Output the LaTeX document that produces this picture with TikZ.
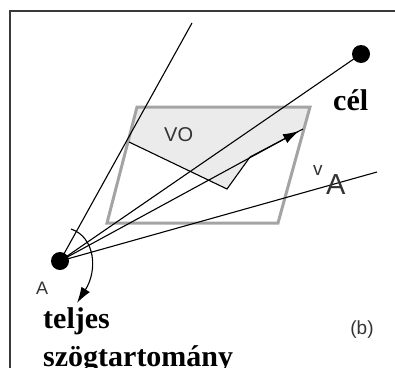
\documentclass[tikz,border=0pt]{standalone}
\usepackage{fontspec}
\setmainfont{Liberation Serif}
\setsansfont{Liberation Sans}
\usetikzlibrary{arrows.meta}
\definecolor{pgray}{HTML}{A4A4A4}
\definecolor{vofill}{HTML}{EBEBEB}
\definecolor{framegray}{HTML}{3A3A3A}
\definecolor{txtgray}{HTML}{333333}
\tikzset{
  thinline/.style={line width=1.1pt, black},
  dotnode/.style={circle, fill=black, inner sep=0pt, minimum size=18pt},
  sanslabel/.style={inner sep=0pt, text=txtgray, font=\sffamily\fontsize{19}{22}\selectfont},
  boldlabel/.style={inner sep=0pt, text=black, font=\bfseries\fontsize{30}{34}\selectfont},
  arrowtip/.style={-{Latex[length=16pt,width=10pt]}}
}
\begin{document}
\begin{tikzpicture}[x=1pt,y=-1pt]
\useasboundingbox (0,0) rectangle (395,367);
% frame
\draw[framegray, line width=2pt] (10,400) -- (10,11) -- (400,11);
% VO shaded region
\fill[vofill] (137,107) -- (310,107) -- (304,129) -- (250,157) -- (227,189) -- (128,142) -- cycle;
% parallelogram
\draw[pgray, line width=3pt, line join=miter] (137,107) -- (310,107) -- (278,223) -- (107,223) -- cycle;
% VO boundary
\coordinate (vo1) at (129,142);
\coordinate (apex) at (227,189);
\coordinate (vo2) at (250,157);
\coordinate (vo3) at (303,129);
\draw[thinline] (vo1) -- (apex) -- (vo2) -- (vo3);
% nodes
\node[dotnode] (A) at (60,261) {};
\node[dotnode] (goal) at (361,54) {};
\coordinate (up) at (192,23);
\coordinate (low) at (377,172);
\coordinate (vtip) at (299,131);
\coordinate (arcstart) at (71,229);
\coordinate (arcend) at (77,303);
% lines
\draw[thinline] (A.center) -- (up);
\draw[thinline] (A.center) -- (goal.center);
\draw[thinline] (A.center) -- (low);
\draw[thinline, arrowtip] (A.center) -- (vtip);
\draw[thinline, arrowtip] (arcstart) .. controls (95,237) and (98,270) .. (arcend);
% labels
\node[sanslabel, anchor=base west, font=\sffamily\fontsize{20}{24}\selectfont] (vo) at (164,141) {VO};
\node[sanslabel, anchor=base west, font=\sffamily\fontsize{18}{22}\selectfont] (alab) at (36,294) {A};
\node[sanslabel, anchor=base] (b) at (362,334) {(b)};
\node[sanslabel, anchor=base west] (vv) at (313,175) {v};
\node[inner sep=0pt, text=txtgray, font=\sffamily\fontsize{29}{32}\selectfont, anchor=base west] (va) at (326,194) {A};
\node[boldlabel, anchor=base west] (cel) at (333,110) {cél};
\node[boldlabel, anchor=base west] (tel1) at (43,328) {teljes};
\node[boldlabel, anchor=base west] (tel2) at (43,366) {szögtartomány};
\end{tikzpicture}
\end{document}
